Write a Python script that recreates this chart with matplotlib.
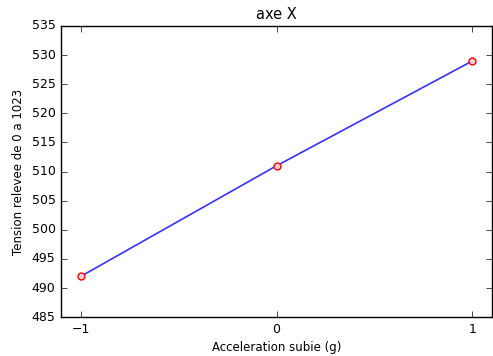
import matplotlib
matplotlib.use('Agg')
import matplotlib.pyplot as plt

plt.style.use('classic')

# ── Data ──────────────────────────────────────────────────────────────────────
acceleration = [-1, 0, 1]
tension = [492, 511, 529]

fig = plt.figure(figsize=(4.93, 3.56), dpi=100)
fig.patch.set_facecolor('white')
ax = fig.add_axes([0.124, 0.109, 0.874, 0.818])

ax.plot(acceleration, tension, '-', color='#3333ff', linewidth=1.2)
ax.plot(acceleration, tension, 'o', markersize=5, markerfacecolor='#ffd0d0',
        markeredgecolor='r', markeredgewidth=1)

ax.set_xlim(-1.1, 1.1)
ax.set_ylim(485, 535)
ax.set_xticks([-1, 0, 1])
ax.set_yticks(range(485, 536, 5))
ax.tick_params(labelsize=9)

ax.set_title('axe X', fontsize=10.5)
ax.set_xlabel('Acceleration subie (g)', fontsize=8.5, labelpad=4)
ax.set_ylabel('Tension relevee de 0 a 1023', fontsize=8.5)

fig.savefig('out.png', dpi=100, facecolor='white')
